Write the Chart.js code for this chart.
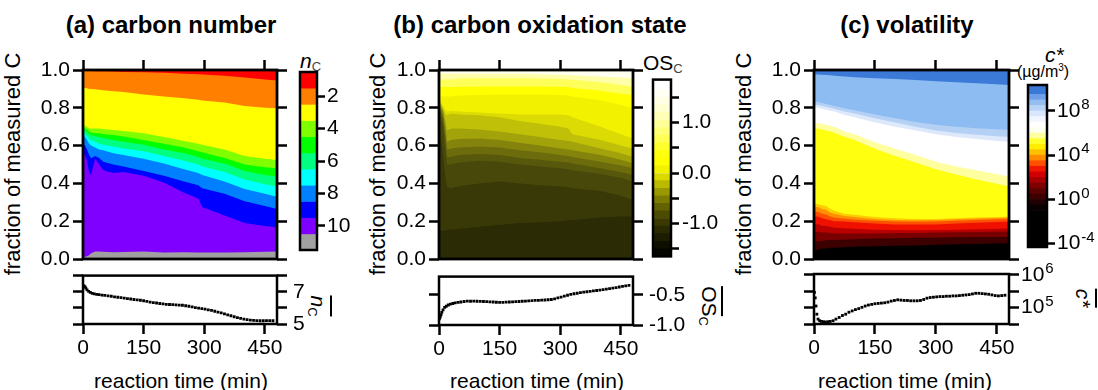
<!DOCTYPE html>
<html><head><meta charset="utf-8">
<script src="https://cdn.jsdelivr.net/npm/chart.js@4.4.1/dist/chart.umd.min.js"></script>
<style>
body{margin:0;width:1098px;height:390px;position:relative;overflow:hidden;background:#fff;font-family:"Liberation Sans",Arial,Helvetica,sans-serif;color:#000}
canvas{position:absolute}
.t{position:absolute;white-space:nowrap;line-height:1}
.title{font-weight:bold;font-size:24px;transform:translate(-50%,-50%)}
.xt{font-size:21px;transform:translate(-50%,-50%)}
.yt{font-size:22px;transform:translate(-50%,-50%) rotate(-90deg)}
.rt{font-size:21px;transform:translate(-50%,-50%) rotate(90deg)}
.ob{display:inline-block;border-top:2px solid #000;padding-top:1px;line-height:1}
sub{font-size:13px;vertical-align:-3px}
</style></head><body>
<div class="t title" style="left:171px;top:25px">(a) carbon number</div>
<div class="t title" style="left:540px;top:25px">(b) carbon oxidation state</div>
<div class="t title" style="left:907px;top:25px">(c) volatility</div>
<div class="t yt" style="left:13px;top:164px">fraction of measured C</div>
<div class="t yt" style="left:378px;top:164px">fraction of measured C</div>
<div class="t yt" style="left:744px;top:164px">fraction of measured C</div>
<div class="t xt" style="left:181px;top:380px">reaction time (min)</div>
<div class="t xt" style="left:537px;top:380px">reaction time (min)</div>
<div class="t xt" style="left:905px;top:380px">reaction time (min)</div>
<div class="t" style="left:300px;top:50px;font-size:21px"><i>n</i><sub style="color:#444">C</sub></div>
<div class="t" style="left:643px;top:52px;font-size:21px">OS<sub style="color:#444">C</sub></div>
<div class="t" style="left:1045px;top:44px;font-size:21px;font-style:italic">c*</div>
<div class="t" style="left:1017px;top:63px;font-size:16px">(µg/m<sup style="font-size:10px">3</sup>)</div>
<div class="t rt" style="left:319px;top:306px"><span class="ob"><i>n</i><sub>C</sub></span></div>
<div class="t rt" style="left:710px;top:306px"><span class="ob">OS</span><sub>C</sub></div>
<div class="t rt" style="left:1085px;top:298px"><span class="ob"><i>c*</i></span></div>
<script>
// ================= DATA =================
const timeTicks = [0, 150, 300, 450];
const fracTicks = [0, 0.2, 0.4, 0.6, 0.8, 1.0];

// (a) carbon number: upper edge (cumulative fraction of measured C) of each nC band
const timeA = [0,5,10,15,20,30,40,50,75,100,150,200,250,285,295,350,400,450,480];
const topNC11 = [0.010,0.012,0.015,0.020,0.030,0.040,0.040,0.038,0.036,0.037,0.040,0.035,0.036,0.035,0.034,0.035,0.036,0.038,0.040];
const topNC10 = [0.55,0.55,0.52,0.46,0.445,0.53,0.50,0.47,0.455,0.46,0.44,0.405,0.35,0.32,0.275,0.23,0.19,0.175,0.168];
const topNC9  = [0.61,0.60,0.58,0.55,0.533,0.545,0.535,0.515,0.50,0.49,0.465,0.44,0.41,0.39,0.375,0.345,0.305,0.28,0.265];
const topNC8  = [0.655,0.645,0.63,0.61,0.60,0.59,0.58,0.575,0.56,0.55,0.53,0.505,0.475,0.455,0.445,0.41,0.37,0.345,0.33];
const topNC7  = [0.67,0.66,0.65,0.635,0.63,0.62,0.61,0.605,0.595,0.585,0.57,0.545,0.52,0.50,0.49,0.46,0.42,0.395,0.383];
const topNC6  = [0.685,0.68,0.67,0.66,0.655,0.65,0.645,0.64,0.63,0.62,0.605,0.58,0.56,0.54,0.53,0.505,0.465,0.445,0.436];
const topNC5  = [0.695,0.69,0.685,0.675,0.67,0.665,0.665,0.66,0.656,0.648,0.63,0.61,0.59,0.57,0.565,0.535,0.50,0.485,0.48];
const topNC4  = [0.71,0.705,0.70,0.69,0.69,0.69,0.69,0.688,0.683,0.677,0.665,0.645,0.625,0.61,0.605,0.58,0.545,0.53,0.524];
const topNC3  = [0.905,0.905,0.903,0.90,0.90,0.898,0.895,0.893,0.888,0.883,0.87,0.86,0.85,0.842,0.838,0.828,0.81,0.80,0.797];
const topNC2  = [0.995,0.995,0.995,0.995,0.995,0.993,0.993,0.993,0.992,0.99,0.988,0.985,0.98,0.977,0.976,0.97,0.96,0.95,0.945];
const topNC1  = [1,1,1,1,1,1,1,1,1,1,1,1,1,1,1,1,1,1,1];
const nCLevels = [1,2,3,4,5,6,7,8,9,10,11];
const nCColors = ['#ff0000','#ff8000','#ffff00','#80ff00','#00ff00','#00ff80','#00ffff','#0080ff','#0000ff','#8000ff','#a0a0a0'];
const nCBarTicks = [2,4,6,8,10];

// (b) carbon oxidation state: upper edge of each OSc band (bottom = most reduced)
const timeB = [0,5,10,15,20,30,50,100,150,200,250,300,320,330,400,450,480];
const topOS1  = [0.15,0.15,0.15,0.15,0.155,0.155,0.16,0.17,0.18,0.19,0.195,0.2,0.205,0.205,0.22,0.225,0.225];
const topOS2  = [0.75,0.65,0.55,0.45,0.38,0.375,0.385,0.40,0.41,0.40,0.39,0.383,0.38,0.375,0.36,0.335,0.312];
const topOS3  = [0.78,0.74,0.70,0.60,0.50,0.50,0.51,0.52,0.515,0.50,0.49,0.48,0.475,0.47,0.45,0.43,0.41];
const topOS4  = [0.80,0.77,0.74,0.65,0.54,0.54,0.55,0.555,0.55,0.535,0.525,0.515,0.51,0.505,0.48,0.46,0.444];
const topOS5  = [0.81,0.785,0.76,0.68,0.58,0.585,0.59,0.595,0.59,0.575,0.565,0.55,0.545,0.54,0.515,0.495,0.48];
const topOS6  = [0.82,0.80,0.78,0.71,0.62,0.63,0.635,0.638,0.63,0.615,0.60,0.585,0.58,0.575,0.55,0.525,0.506];
const topOS7  = [0.83,0.81,0.79,0.74,0.68,0.69,0.69,0.685,0.675,0.66,0.645,0.63,0.625,0.62,0.585,0.56,0.54];
const topOS8  = [0.84,0.82,0.80,0.77,0.76,0.77,0.765,0.76,0.75,0.73,0.715,0.70,0.69,0.66,0.63,0.60,0.585];
const topOS9  = [0.85,0.83,0.81,0.79,0.78,0.785,0.78,0.775,0.77,0.765,0.765,0.765,0.76,0.75,0.70,0.66,0.638];
const topOS10 = [0.86,0.86,0.86,0.86,0.86,0.86,0.865,0.868,0.87,0.87,0.87,0.868,0.865,0.86,0.84,0.815,0.797];
const topOS11 = [0.91,0.91,0.91,0.91,0.91,0.91,0.912,0.913,0.913,0.913,0.913,0.912,0.91,0.905,0.89,0.875,0.868];
const topOS12 = [0.95,0.95,0.95,0.95,0.95,0.95,0.955,0.957,0.957,0.957,0.955,0.952,0.95,0.948,0.935,0.92,0.912];
const topOS13 = [0.98,0.98,0.98,0.98,0.98,0.98,0.98,0.98,0.98,0.98,0.978,0.975,0.973,0.972,0.965,0.96,0.956];
const topOS14 = [1,1,1,1,1,1,1,1,1,1,1,1,1,1,1,1,1];
const osBandColors = ['#2b2b06','#393908','#48480b','#58580c','#6c6c0d','#84840d','#a2a20b','#c0c008','#dcdc04','#f2f200','#ffff00','#ffff5a','#ffffaa','#fffff0'];
const osBarEdges = [-1.65,-1.5,-1.35,-1.2,-1.05,-0.9,-0.75,-0.6,-0.45,-0.3,-0.15,0,0.15,0.3,0.45,0.6,0.75,0.9,1.05,1.2,1.35,1.5,1.65,1.85];
const osBarColors = ['#050500','#0f0f00','#1c1c00','#2a2a00','#3a3a00','#4c4c00','#626200','#7c7c00','#9a9a00','#baba00','#dada00','#f2f200','#ffff00','#ffff10','#ffff30','#ffff55','#ffff78','#ffff9a','#ffffb8','#ffffd0','#ffffe4','#fffff4','#ffffff'];
const osBarTicks = [-1.5,-1.0,-0.5,0,0.5,1.0,1.5];
const osBarLabeled = [-1.0,0,1.0];

// (c) volatility: upper edge of each log10 c* band (bottom = lowest volatility)
const timeC = [0,10,20,30,40,50,75,100,150,200,250,300,350,400,450,480];
const topV1  = [0.04,0.05,0.055,0.055,0.06,0.06,0.062,0.065,0.068,0.07,0.072,0.075,0.078,0.08,0.082,0.083];
const topV2  = [0.09,0.095,0.095,0.10,0.10,0.10,0.102,0.105,0.108,0.11,0.112,0.113,0.115,0.116,0.117,0.118];
const topV3  = [0.14,0.145,0.14,0.14,0.138,0.135,0.135,0.135,0.135,0.137,0.138,0.14,0.142,0.143,0.144,0.145];
const topV4  = [0.18,0.185,0.175,0.175,0.17,0.165,0.163,0.16,0.155,0.153,0.152,0.153,0.155,0.158,0.16,0.162];
const topV5  = [0.225,0.225,0.215,0.21,0.205,0.20,0.198,0.195,0.188,0.183,0.182,0.183,0.188,0.192,0.196,0.198];
const topV6  = [0.25,0.25,0.24,0.235,0.225,0.22,0.213,0.208,0.202,0.198,0.197,0.198,0.202,0.206,0.21,0.212];
const topV7  = [0.275,0.275,0.265,0.26,0.245,0.24,0.228,0.222,0.212,0.207,0.205,0.206,0.21,0.214,0.217,0.219];
const topV8  = [0.295,0.29,0.285,0.28,0.265,0.255,0.24,0.234,0.222,0.215,0.212,0.212,0.216,0.22,0.222,0.224];
const topV9  = [0.69,0.69,0.685,0.68,0.675,0.668,0.647,0.63,0.583,0.545,0.51,0.475,0.447,0.42,0.398,0.383];
const topV10 = [0.718,0.718,0.715,0.71,0.705,0.698,0.674,0.66,0.618,0.583,0.55,0.515,0.49,0.47,0.448,0.436];
const topV11 = [0.806,0.80,0.795,0.79,0.785,0.78,0.762,0.75,0.722,0.70,0.68,0.66,0.645,0.635,0.625,0.62];
const topV12 = [0.818,0.815,0.81,0.805,0.80,0.795,0.78,0.77,0.745,0.722,0.70,0.68,0.667,0.658,0.65,0.647];
const topV13 = [0.832,0.83,0.825,0.82,0.815,0.81,0.797,0.787,0.765,0.745,0.725,0.71,0.70,0.692,0.686,0.683];
const topV14 = [0.977,0.976,0.975,0.973,0.972,0.97,0.965,0.962,0.957,0.952,0.947,0.94,0.935,0.93,0.924,0.92];
const topV15 = [1,1,1,1,1,1,1,1,1,1,1,1,1,1,1,1];
const vBandColors = ['#000000','#3c0000','#780000','#b80000','#f01000','#ff5000','#ff9000','#ffcc00','#ffff10','#ffffa0','#ffffff','#dde9fb','#b4d0f5','#8cbcf2','#3c7ad8'];
const vBarEdgesLog = [-4.3,-1,-0.5,0,0.5,1,1.5,2,2.5,3,3.5,4,4.5,5,5.5,6,6.5,7,7.5,8,8.5,9,9.5,10.35];
const vBarColors = ['#000000','#0a0000','#200000','#3c0000','#5c0000','#800000','#a80000','#d00000','#f01800','#ff5000','#ff8c00','#ffc000','#ffee00','#ffff30','#ffffa0','#fffff0','#ffffff','#f0f6ff','#d8e7fc','#b8d3f8','#94bef2','#6c9fe8','#3a78d8'];
const vBarTicksLog = [-4,0,4,8];

// bottom panels: bulk averages vs reaction time
const timeAvg = [1,3,5,7,10,14,18,23,28,34,40,47,54,62,70,78,86,94,102,110,118,126,134,142,150,158,166,174,182,190,198,206,214,222,230,238,246,254,262,270,278,286,294,302,310,318,326,334,342,350,358,366,374,382,390,398,406,414,422,430,438,446,454,462,470];
const nCMean = [7.38,7.35,7.30,7.22,7.12,7.02,6.96,6.90,6.87,6.84,6.82,6.79,6.77,6.74,6.72,6.68,6.66,6.63,6.60,6.57,6.55,6.52,6.50,6.47,6.44,6.40,6.36,6.33,6.30,6.27,6.25,6.22,6.21,6.20,6.19,6.17,6.16,6.13,6.10,6.06,6.02,5.98,5.95,5.92,5.88,5.84,5.79,5.74,5.69,5.63,5.57,5.51,5.45,5.40,5.35,5.30,5.27,5.24,5.22,5.21,5.20,5.20,5.21,5.21,5.20];
const osMean = [-0.90,-0.87,-0.83,-0.79,-0.75,-0.71,-0.69,-0.67,-0.655,-0.645,-0.635,-0.625,-0.62,-0.612,-0.605,-0.607,-0.605,-0.608,-0.61,-0.612,-0.615,-0.618,-0.62,-0.624,-0.627,-0.625,-0.622,-0.62,-0.618,-0.615,-0.612,-0.608,-0.605,-0.60,-0.597,-0.594,-0.592,-0.59,-0.587,-0.583,-0.578,-0.567,-0.553,-0.538,-0.523,-0.508,-0.495,-0.484,-0.475,-0.466,-0.458,-0.45,-0.443,-0.437,-0.43,-0.423,-0.415,-0.407,-0.399,-0.39,-0.381,-0.372,-0.362,-0.352,-0.345];
const logCstarMean = [5.47,5.30,5.05,4.80,4.65,4.60,4.58,4.57,4.56,4.57,4.58,4.60,4.65,4.70,4.76,4.80,4.86,4.90,4.94,4.97,5.01,5.05,5.08,5.10,5.12,5.13,5.14,5.15,5.17,5.20,5.22,5.24,5.23,5.22,5.22,5.21,5.21,5.21,5.22,5.25,5.29,5.31,5.32,5.33,5.34,5.34,5.35,5.35,5.36,5.36,5.37,5.38,5.39,5.40,5.42,5.44,5.44,5.43,5.42,5.41,5.39,5.37,5.36,5.37,5.38];
const nCMeanTicks = [5,6,7,8], nCMeanLabeled = [5,7];
const osMeanTicks = [-1.0,-0.5], osMeanLabeled = [-1.0,-0.5];
const cstarTicksLog = [4.5,5,5.5,6], cstarLabeledLog = [5,6];

// ================= DRAWING =================
const FONT = '"Liberation Sans", Arial, Helvetica, sans-serif';
Chart.defaults.font.family = FONT;
Chart.defaults.color = '#000';

const framePlugin = {
  id: 'frame',
  afterDatasetsDraw(chart, args, opts) {
    const a = chart.chartArea, ctx = chart.ctx;
    ctx.save(); ctx.strokeStyle = '#000'; ctx.lineWidth = opts.width || 2.5;
    ctx.strokeRect(a.left, a.top, a.right - a.left, a.bottom - a.top); ctx.restore();
  }
};
// draws the exponent of "10^n" tick labels on right-hand log axes as a raised superscript
const expPlugin = {
  id: 'exp',
  afterDraw(chart, args, opts) {
    if (!opts || !opts.axes) return;
    const ctx = chart.ctx;
    opts.axes.forEach(id => {
      const s = chart.scales[id];
      const tl = s.options.grid.tickLength, pad = s.options.ticks.padding;
      ctx.save();
      ctx.font = '21px ' + FONT;
      const w = ctx.measureText('10').width;
      ctx.font = '15px ' + FONT;
      ctx.fillStyle = '#000'; ctx.textBaseline = 'middle'; ctx.textAlign = 'left';
      s.ticks.forEach(t => {
        if (!t.label) return;
        const e = Math.round(Math.log10(t.value));
        ctx.fillText(String(e), s.left + tl + pad + w + 1, s.getPixelForValue(t.value) - 6);
      });
      ctx.restore();
    });
  }
};

// axis whose box size is fixed (size px); labelled axes get the full margin so their labels are not clipped
function mkAxis(o) {
  const size = o.size || 0;
  return {
    type: o.type || 'linear', position: o.position, min: o.min, max: o.max, reverse: !!o.reverse,
    display: true,
    afterFit: s => { if (s.isHorizontal()) s.height = size; else s.width = size; },
    afterBuildTicks: s => { s.ticks = o.tickVals.map(v => ({value: v})); },
    border: {display: false},
    grid: {display: true, drawOnChartArea: false, drawTicks: true, tickLength: o.tl || 10, tickWidth: 2.5, tickColor: '#000'},
    ticks: {display: !!o.label, autoSkip: false, maxRotation: 0, minRotation: 0, padding: o.pad == null ? 3 : o.pad,
            font: {size: 21, family: FONT}, color: '#000', callback: o.label || (() => '')}
  };
}
function place(r, m) {
  const c = document.createElement('canvas');
  const W = r.w + m.l + m.r, H = r.h + m.t + m.b;
  c.width = W; c.height = H;
  c.style.left = (r.x - m.l) + 'px'; c.style.top = (r.y - m.t) + 'px';
  c.style.width = W + 'px'; c.style.height = H + 'px';
  document.body.appendChild(c);
  return c;
}
function baseOptions(pad, fw, scales, expAxes) {
  return {
    responsive: false, maintainAspectRatio: false, animation: false, devicePixelRatio: 1, events: [],
    layout: {padding: pad, autoPadding: false},
    plugins: {legend: {display: false}, tooltip: {enabled: false}, frame: {width: fw}, exp: {axes: expAxes || []}},
    scales
  };
}

const mainM = {l: 75, t: 20, r: 20, b: 20};
function mainChart(r, times, tops, colors) {
  new Chart(place(r, mainM), {
    type: 'line',
    data: {datasets: tops.map((arr, i) => ({
      data: arr.map((v, j) => ({x: times[j], y: v})),
      backgroundColor: colors[i], borderColor: 'rgba(0,0,0,0)', borderWidth: 0,
      pointRadius: 0, fill: 'origin', tension: 0}))},
    options: baseOptions({left: 0, top: mainM.t, right: mainM.r, bottom: mainM.b}, 2.8, {
      x: {type: 'linear', min: 0, max: 480, display: false},
      xt: mkAxis({position: 'top', min: 0, max: 480, tickVals: timeTicks}),
      y: mkAxis({position: 'left', min: 0, max: 1, tickVals: fracTicks, label: v => v.toFixed(1), pad: 3, size: mainM.l}),
      yr: mkAxis({position: 'right', min: 0, max: 1, tickVals: fracTicks})
    }),
    plugins: [framePlugin]
  });
}

const botM = {l: 20, t: 16, r: 80, b: 45};
function botChart(r, o) {
  new Chart(place(r, botM), {
    type: 'scatter',
    data: {datasets: [{data: o.values.map((v, j) => ({x: timeAvg[j], y: v})), xAxisID: 'x', yAxisID: 'yr',
      pointStyle: 'rect', pointRadius: 2, backgroundColor: '#000', borderWidth: 0}]},
    options: baseOptions({left: botM.l, top: botM.t, right: 0, bottom: 0}, 2.5, {
      x: mkAxis({position: 'bottom', min: 0, max: 480, tickVals: timeTicks, label: v => String(v), pad: 2, size: botM.b}),
      yl: mkAxis({type: o.type, position: 'left', min: o.min, max: o.max, tickVals: o.ticks}),
      yr: mkAxis({type: o.type, position: 'right', min: o.min, max: o.max, tickVals: o.ticks, label: o.label, pad: o.pad, size: botM.r})
    }, o.type === 'logarithmic' ? ['yr'] : []),
    plugins: [framePlugin, expPlugin]
  });
}

const cbM = {l: 5, t: 15, r: 60, b: 15};
function cbChart(r, o) {
  new Chart(place(r, cbM), {
    type: 'bar',
    data: {labels: ['cb'], datasets: o.segs.map((s, i) => ({data: [s], backgroundColor: o.colors[i],
      borderWidth: 0, barPercentage: 1, categoryPercentage: 1}))},
    options: baseOptions({left: cbM.l, top: cbM.t, right: 0, bottom: cbM.b}, 2.5, {
      x: {type: 'category', display: false, stacked: true},
      y: mkAxis({type: o.type, position: 'right', min: o.min, max: o.max, reverse: o.reverse, tickVals: o.ticks, label: o.label, tl: 8, pad: o.pad, size: cbM.r})
    }, o.type === 'logarithmic' ? ['y'] : []),
    plugins: [framePlugin, expPlugin]
  });
}

// ---- panel (a)
mainChart({x: 83, y: 70, w: 194, h: 189}, timeA,
  [topNC11, topNC10, topNC9, topNC8, topNC7, topNC6, topNC5, topNC4, topNC3, topNC2, topNC1],
  nCColors.slice().reverse());
cbChart({x: 300, y: 72, w: 17, h: 178}, {type: 'linear', min: 0.5, max: 11.5, reverse: true,
  segs: nCLevels.map(l => [l - 0.5, l + 0.5]), colors: nCColors, ticks: nCBarTicks, label: v => String(v), pad: 2});
botChart({x: 83, y: 273, w: 194, h: 51}, {type: 'linear', min: 5, max: 8, values: nCMean,
  ticks: nCMeanTicks, label: v => nCMeanLabeled.includes(v) ? String(v) : '', pad: 6});

// ---- panel (b)
mainChart({x: 439, y: 70, w: 194, h: 189}, timeB,
  [topOS1, topOS2, topOS3, topOS4, topOS5, topOS6, topOS7, topOS8, topOS9, topOS10, topOS11, topOS12, topOS13, topOS14],
  osBandColors);
cbChart({x: 653, y: 79, w: 18, h: 178}, {type: 'linear', min: -1.65, max: 1.85,
  segs: osBarColors.map((c, i) => [osBarEdges[i], osBarEdges[i + 1]]), colors: osBarColors,
  ticks: osBarTicks, label: v => osBarLabeled.includes(v) ? v.toFixed(1) : '', pad: 3});
botChart({x: 439, y: 274, w: 194, h: 51}, {type: 'linear', min: -1.0, max: -0.2, values: osMean,
  ticks: osMeanTicks, label: v => osMeanLabeled.includes(v) ? v.toFixed(1) : '', pad: 6});

// ---- panel (c)
mainChart({x: 814, y: 70, w: 195, h: 189}, timeC,
  [topV1, topV2, topV3, topV4, topV5, topV6, topV7, topV8, topV9, topV10, topV11, topV12, topV13, topV14, topV15],
  vBandColors);
cbChart({x: 1028, y: 85, w: 19, h: 162}, {type: 'logarithmic', min: Math.pow(10, -4.3), max: Math.pow(10, 10.35),
  segs: vBarColors.map((c, i) => [Math.pow(10, vBarEdgesLog[i]), Math.pow(10, vBarEdgesLog[i + 1])]), colors: vBarColors,
  ticks: vBarTicksLog.map(e => Math.pow(10, e)), label: () => '10', pad: 2});
botChart({x: 814, y: 274, w: 195, h: 50}, {type: 'logarithmic', min: Math.pow(10, 4.5), max: Math.pow(10, 6.03),
  values: logCstarMean.map(e => Math.pow(10, e)), ticks: cstarTicksLog.map(e => Math.pow(10, e)),
  label: v => { const e = Math.log10(v); return cstarLabeledLog.some(k => Math.abs(k - e) < 1e-6) ? '10' : ''; }, pad: 2});
</script>
</body></html>
